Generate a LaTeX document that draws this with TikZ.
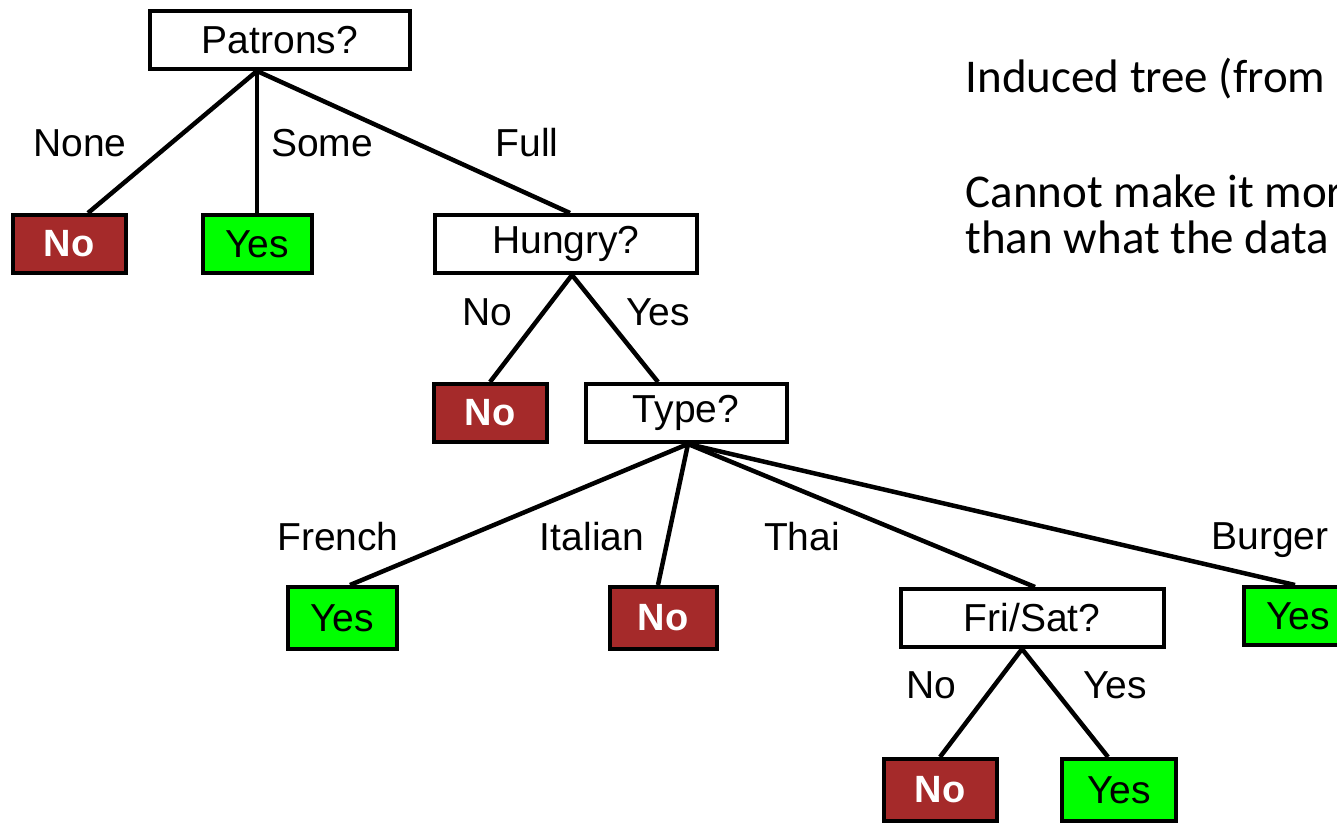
\documentclass[tikz,border=0pt]{standalone}
\usepackage{fontspec}
\setmainfont{Liberation Sans}
\newfontfamily\slidefont{Carlito}
\usetikzlibrary{positioning}
\definecolor{leafno}{RGB}{165,42,42}
\definecolor{leafyes}{RGB}{0,255,0}

\begin{document}
\begin{tikzpicture}[x=1pt,y=-1pt,
  attrbox/.style={draw,line width=4pt,fill=white,inner sep=0pt,minimum height=58pt,font=\fontsize{39}{42}\selectfont},
  noleaf/.style={attrbox,fill=leafno,text=white,font=\fontsize{38}{42}\selectfont\bfseries,minimum width=113pt},
  yesleaf/.style={attrbox,fill=leafyes,minimum width=109pt},
  branch/.style={anchor=base,font=\fontsize{39}{42}\selectfont},
  edge/.style={line width=4.5pt},
  slidetext/.style={anchor=base west,font=\slidefont\fontsize{47}{47}\selectfont}]
\useasboundingbox (0,0) rectangle (1337,822);
\clip (0,0) rectangle (1337,822);
% Attribute tests
\node[attrbox,minimum width=260pt] (patrons) at (280,40) {Patrons?};
\node[attrbox,minimum width=262pt] (hungry) at (566,244) {Hungry?};
\node[attrbox,minimum width=201pt] (type) at (686,413) {Type?};
\node[attrbox,minimum width=263pt] (frisat) at (1032,618) {Fri/Sat?};
% Leaves
\node[noleaf] (none-no) at (69,244) {No};
\node[yesleaf] (some-yes) at (257,244) {Yes};
\node[noleaf] (hungry-no) at (490,413) {No};
\node[yesleaf,minimum height=62pt] (french-yes) at (342,618) {Yes};
\node[noleaf,minimum height=62pt,minimum width=107pt] (italian-no) at (663,618) {No};
\node[yesleaf] (burger-yes) at (1298,616) {Yes};
\node[noleaf,minimum height=62pt] (fri-no) at (940,790) {No};
\node[yesleaf,minimum height=62pt,minimum width=114pt] (fri-yes) at (1119,790) {Yes};
% Branches
\draw[edge] ([xshift=-23pt]patrons.south) -- ([xshift=19pt]none-no.north);
\draw[edge] ([xshift=-23pt]patrons.south) -- (some-yes.north);
\draw[edge] ([xshift=-23pt]patrons.south) -- ([xshift=4pt]hungry.north);
\draw[edge] ([xshift=6pt]hungry.south) -- (hungry-no.north);
\draw[edge] ([xshift=6pt]hungry.south) -- ([xshift=-28pt]type.north);
\draw[edge] ([xshift=2pt]type.south) -- ([xshift=8pt]french-yes.north);
\draw[edge] ([xshift=2pt]type.south) -- ([xshift=-5pt]italian-no.north);
\draw[edge] ([xshift=2pt]type.south) -- ([xshift=3pt]frisat.north);
\draw[edge] ([xshift=2pt]type.south) -- ([xshift=-3pt]burger-yes.north);
\draw[edge] ([xshift=-10pt]frisat.south) -- (fri-no.north);
\draw[edge] ([xshift=-10pt]frisat.south) -- ([xshift=-11pt]fri-yes.north);
% Branch labels
\node[branch] (l-none) at (80,156) {None};
\node[branch] (l-some) at (322,156) {Some};
\node[branch] (l-full) at (527,156) {Full};
\node[branch] (l-hno) at (487,325) {No};
\node[branch] (l-hyes) at (658,325) {Yes};
\node[branch] (l-french) at (338,550) {French};
\node[branch] (l-italian) at (592,550) {Italian};
\node[branch] (l-thai) at (802,550) {Thai};
\node[branch] (l-burger) at (1270,549) {Burger};
\node[branch] (l-fno) at (931,698) {No};
\node[branch] (l-fyes) at (1115,698) {Yes};
% Slide text
\node[slidetext] (induced) at (962,92) {Induced tree (from};
\node[slidetext] (cannot) at (962,207) {Cannot make it mor};
\node[slidetext] (thanwhat) at (962,253) {than what the data};
\end{tikzpicture}
\end{document}
